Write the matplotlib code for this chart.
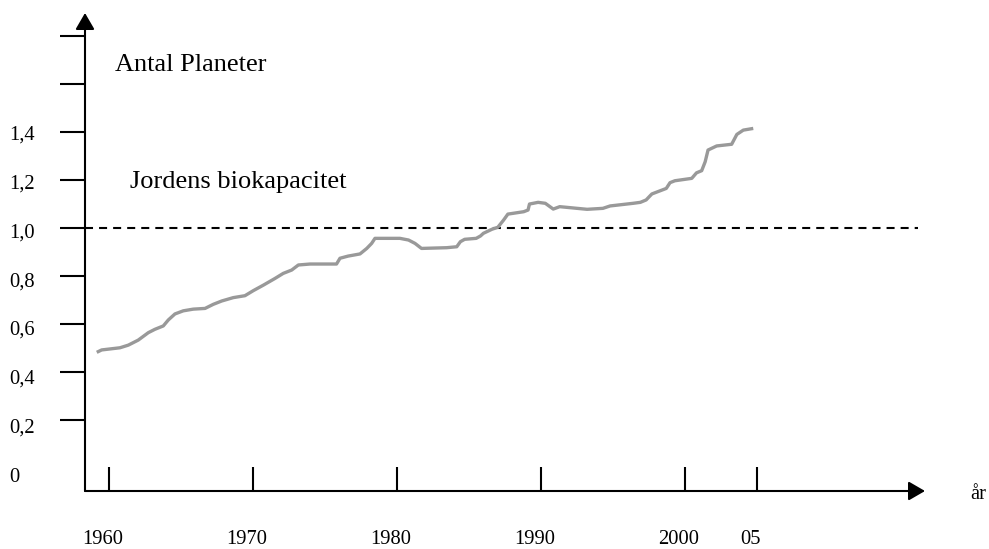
import matplotlib
matplotlib.use("Agg")
import matplotlib.pyplot as plt
from matplotlib.transforms import ScaledTranslation, blended_transform_factory

# ---- data ----
years = [1959.15, 1959.49, 1960.76, 1961.34, 1962.03, 1962.73, 1963.19, 1963.77,
         1964.12, 1964.58, 1965.16, 1965.85, 1966.67, 1967.24, 1967.83, 1968.63,
         1969.44, 1970.02, 1970.72, 1971.53, 1972.1, 1972.69, 1973.15, 1973.96,
         1975.8, 1976.04, 1976.6, 1977.43, 1977.9, 1978.24, 1978.47, 1980.2,
         1980.8, 1981.25, 1981.7, 1983.45, 1984.15, 1984.4, 1984.7, 1985.5,
         1985.8, 1986.0, 1986.6, 1987.0, 1987.4, 1987.7, 1988.8, 1989.1,
         1989.2, 1989.8, 1990.3, 1990.85, 1991.3, 1993.2, 1994.3, 1994.8,
         1996.4, 1996.9, 1997.3, 1997.7, 1998.7, 1998.96, 1999.3, 2000.47,
         2000.8, 2001.16, 2001.4, 2001.6, 2002.2, 2003.24, 2003.6, 2004.05,
         2004.74]
planets = [0.482, 0.492, 0.501, 0.512, 0.533, 0.564, 0.578, 0.592,
           0.617, 0.642, 0.655, 0.662, 0.665, 0.682, 0.696, 0.710,
           0.718, 0.739, 0.762, 0.790, 0.811, 0.825, 0.846, 0.850,
           0.850, 0.874, 0.883, 0.892, 0.915, 0.936, 0.957, 0.957,
           0.950, 0.936, 0.915, 0.918, 0.922, 0.943, 0.953, 0.957,
           0.967, 0.978, 0.995, 1.003, 1.033, 1.058, 1.068, 1.075,
           1.100, 1.107, 1.103, 1.079, 1.089, 1.078, 1.082, 1.092,
           1.103, 1.107, 1.117, 1.142, 1.165, 1.189, 1.197, 1.207,
           1.230, 1.239, 1.276, 1.325, 1.342, 1.349, 1.390, 1.408,
           1.415]
biocapacity = 1.0

y_tick_values = [0.2, 0.4, 0.6, 0.8, 1.0, 1.2, 1.4, 1.6, 1.8]
y_label_values = [0.0, 0.2, 0.4, 0.6, 0.8, 1.0, 1.2, 1.4]
y_labels = ["0", "0,2", "0,4", "0,6", "0,8", "1,0", "1,2", "1,4"]
x_tick_values = [1960, 1970, 1980, 1990, 2000, 2005]
x_labels = ["1960", "1970", "1980", "1990", "2000", "05"]

title_text = "Antal Planeter"
bio_text = "Jordens biokapacitet"
x_axis_text = "år"

# ---- style ----
plt.rcParams['font.family'] = ['Liberation Serif', 'DejaVu Serif']
W, H = 989, 549
fig = plt.figure(figsize=(W / 100, H / 100), dpi=100)
ax = fig.add_axes([85 / W, 58 / H, 840 / W, 478 / H])
XMIN, XMAX = 1958.333, 2016.667
ax.set_xlim(XMIN, XMAX)
ax.set_ylim(-0.0958, 1.896)
for s in ax.spines.values():
    s.set_visible(False)
ax.patch.set_visible(False)

ax.set_xticks(x_tick_values)
ax.tick_params(axis='x', direction='in', length=17.3, width=1.5,
               labelbottom=False, color='black')
ax.set_yticks(y_tick_values)
ax.tick_params(axis='y', direction='out', length=18, width=1.5,
               labelleft=False, color='black')

# axes with arrow heads
arrow_kw = dict(arrowstyle='-|>,head_length=1.0,head_width=0.58',
                mutation_scale=10, lw=1.5, color='black',
                shrinkA=0, shrinkB=0)
ax.annotate('', xy=(0, 1), xytext=(0, 0), xycoords='axes fraction',
            arrowprops=arrow_kw, annotation_clip=False)
ax.annotate('', xy=(1, 0), xytext=(0, 0), xycoords='axes fraction',
            arrowprops=arrow_kw, annotation_clip=False)

# biocapacity dashed line
ax.plot([XMIN, 2016.2], [biocapacity, biocapacity], color='black', lw=1.5,
        dashes=(3.85, 2.9), solid_capstyle='butt', dash_capstyle='butt')

# footprint line
ax.plot(years, planets, color='#999999', lw=2.4, solid_joinstyle='round',
        solid_capstyle='butt', zorder=3)

TICK_FS = 14.8
TITLE_FS = 19

# y labels (left aligned, slightly below ticks)
ytrans_base = blended_transform_factory(fig.transFigure, ax.transData)
for v, lab in zip(y_label_values, y_labels):
    off_px = 1 + 4.3 * (1.4 - v) + 6.5
    tr = ytrans_base + ScaledTranslation(0, -off_px / 100, fig.dpi_scale_trans)
    ax.text(9 / W, v, lab, transform=tr, ha='left', va='baseline',
            fontsize=TICK_FS)

# x labels
xtrans_base = blended_transform_factory(ax.transData, ax.transAxes)
xtr = xtrans_base + ScaledTranslation(-6 / 100, -53 / 100, fig.dpi_scale_trans)
for v, lab in zip(x_tick_values, x_labels):
    ax.text(v, 0, lab, transform=xtr, ha='center', va='baseline',
            fontsize=TICK_FS)

fig.text(970 / W, 1 - 499 / H, x_axis_text, ha='left', va='baseline',
         fontsize=TICK_FS)
fig.text(115 / W, 1 - 70.7 / H, title_text, ha='left', va='baseline',
         fontsize=TITLE_FS)
fig.text(130 / W, 1 - 188 / H, bio_text, ha='left', va='baseline',
         fontsize=TITLE_FS)

fig.savefig('out.png', dpi=100, facecolor='white')
